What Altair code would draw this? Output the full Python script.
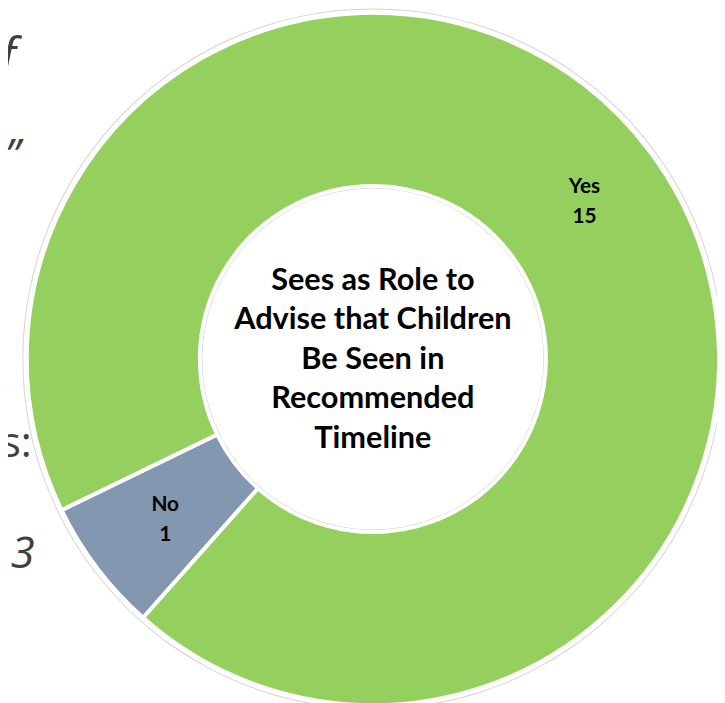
import math
import altair as alt
import pandas as pd

# ---- data ----
categories = ["No", "Yes"]
counts = [1, 15]
slice_colors = ["#8497B0", "#95D05F"]
center_title = "Sees as Role to\nAdvise that Children\nBe Seen in\nRecommended\nTimeline"

# background slide fragments (cropped text behind the chart)
bg_texts = ["f", "\u201d", "e", "ts:", "l 3"]
bg_italic = ["italic", "italic", "normal", "normal", "italic"]

W, H = 717, 695
CX, CY = 369, 351
START = math.radians(221.6)

df = pd.DataFrame({
    "cat": categories,
    "value": counts,
    "order": [0, 1],
    "label": [f"{c}\n{v}" for c, v in zip(categories, counts)],
})

theta = alt.Theta("value:Q", stack=True,
                  scale=alt.Scale(range=[START, START + 2 * math.pi]))
color = alt.Color("cat:N", scale=alt.Scale(domain=categories, range=slice_colors), legend=None)
base = alt.Chart(df).encode(theta=theta, order=alt.Order("order:Q"),
                            x=alt.value(CX), y=alt.value(CY))

donut = base.mark_arc(outerRadius=350, innerRadius=175, stroke="white", strokeWidth=4).encode(color=color)
labels = base.mark_text(radius=266, font="Lato", fontWeight="bold", fontSize=21,
                        lineBreak="\n", lineHeight=30, dy=-13, dx=2, color="black").encode(text="label:N")

one = pd.DataFrame({"k": [0]})
outer_ring = alt.Chart(one).mark_arc(theta=0, theta2=2 * math.pi, outerRadius=354.5, innerRadius=353.5,
                                     color="#d4d4d4").encode(x=alt.value(CX), y=alt.value(CY))
inner_ring = alt.Chart(one).mark_arc(theta=0, theta2=2 * math.pi, outerRadius=173.5, innerRadius=172.5,
                                     color="#d4d4d4").encode(x=alt.value(CX), y=alt.value(CY))

center = alt.Chart(pd.DataFrame({"t": [center_title]})).mark_text(
    font="Lato", fontWeight="bold", fontSize=31, lineBreak="\n", lineHeight=40,
    color="black", align="center", baseline="middle"
).encode(text="t:N", x=alt.value(CX), y=alt.value(272))

bg_layers = []
bg_pos = [(8, 62), (12, 160), (2, 393), (24, 450), (27, 562)]
bg_size = [50, 44, 44, 42, 44]
for txt, sty, (px, py), fs in zip(bg_texts, bg_italic, bg_pos, bg_size):
    bg_layers.append(
        alt.Chart(pd.DataFrame({"t": [txt]})).mark_text(
            font="Open Sans", fontSize=fs, fontStyle=sty, color="#404040",
            align="right", baseline="alphabetic"
        ).encode(text="t:N", x=alt.value(px), y=alt.value(py))
    )

chart = alt.layer(*bg_layers, outer_ring, inner_ring, donut, labels, center).properties(
    width=W, height=H, autosize=alt.AutoSizeParams(type="none"), padding=0
).configure_view(stroke=None)

chart.save("out.html", embed_options={"renderer": "svg", "actions": False})
